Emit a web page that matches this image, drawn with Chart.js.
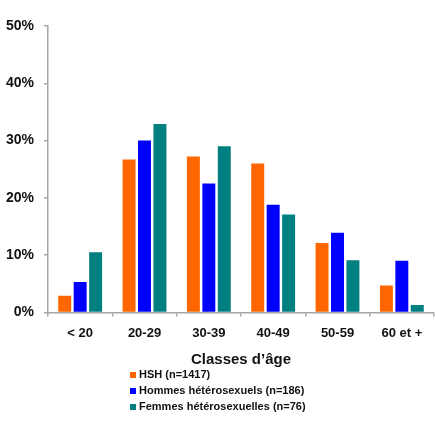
<!DOCTYPE html>
<html>
<head>
<meta charset="utf-8">
<script src="https://cdn.jsdelivr.net/npm/chart.js@4/dist/chart.umd.min.js"></script>
<style>
  html, body { margin: 0; padding: 0; background: #fff; }
  #wrap { width: 435px; height: 436px; position: relative; }
</style>
</head>
<body>
<div id="wrap"><canvas id="ageChart"></canvas></div>
<script>
const ageClasses = ["< 20", "20-29", "30-39", "40-49", "50-59", "60 et +"];
const hshValues = [2.9, 26.7, 27.2, 26.0, 12.1, 4.7];
const hommesValues = [5.3, 30.0, 22.5, 18.8, 13.9, 9.0];
const femmesValues = [10.5, 32.9, 29.0, 17.1, 9.1, 1.3];
const seriesLabels = ["HSH (n=1417)", "Hommes hétérosexuels (n=186)", "Femmes hétérosexuelles (n=76)"];
const seriesColors = ["#ff6600", "#0000ff", "#008080"];
const yTicks = [0, 10, 20, 30, 40, 50];

const axisColor = "#a6a6a6";
const fontFamily = "'Liberation Sans', Arial, sans-serif";

// legend drawn as a vertical list under the axis title
const listLegend = {
    id: "listLegend",
    afterDraw(chart) {
        const c = chart.ctx;
        c.save();
        c.font = "bold 11px " + fontFamily;
        c.textBaseline = "middle";
        chart.data.datasets.forEach((ds, i) => {
            const y = 375 + i * 16;
            c.fillStyle = ds.backgroundColor;
            c.fillRect(130, y - 3, 6, 6);
            c.fillStyle = "#111";
            c.fillText(ds.label, 139, y);
        });
        c.restore();
    }
};

const ctx = document.getElementById("ageChart").getContext("2d");
const myChart = new Chart(ctx, {
    type: "bar",
    data: {
        labels: ageClasses,
        datasets: [hshValues, hommesValues, femmesValues].map((vals, i) => ({
            label: seriesLabels[i],
            data: vals,
            backgroundColor: seriesColors[i],
            borderWidth: 0,
            categoryPercentage: 0.72,
            barPercentage: 0.84
        }))
    },
    options: {
        responsive: true,
        maintainAspectRatio: false,
        animation: false,
        layout: { padding: { top: 26, right: 1, left: 0, bottom: 67 } },
        plugins: {
            legend: { display: false },
            tooltip: { enabled: false }
        },
        scales: {
            x: {
                grid: { drawOnChartArea: false, tickLength: 4, color: axisColor, lineWidth: 1.5 },
                border: { color: axisColor, width: 1.5 },
                ticks: { color: "#111", padding: 9, font: { family: fontFamily, size: 13, weight: "bold" } },
                title: {
                    display: true,
                    text: "Classes d’âge",
                    color: "#111",
                    padding: { top: 1, bottom: 0 },
                    font: { family: fontFamily, size: 15, weight: "bold" }
                }
            },
            y: {
                min: yTicks[0],
                max: yTicks[yTicks.length - 1],
                afterBuildTicks: scale => { scale.ticks = yTicks.map(v => ({ value: v })); },
                afterFit: scale => { scale.width = 48; },
                grid: { drawOnChartArea: false, tickLength: 4, color: axisColor, lineWidth: 1.5 },
                border: { color: axisColor, width: 1.5 },
                ticks: {
                    color: "#111",
                    padding: 10,
                    font: { family: fontFamily, size: 14, weight: "bold" },
                    callback: v => v + "%"
                }
            }
        }
    },
    plugins: [listLegend]
});
</script>
</body>
</html>
